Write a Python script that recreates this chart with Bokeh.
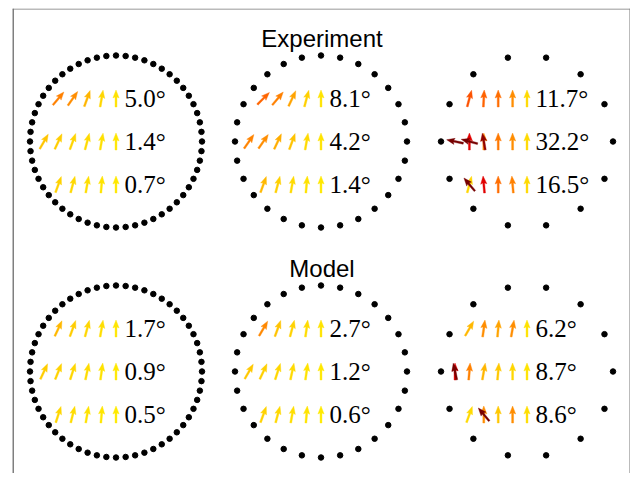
import numpy as np
from bokeh.plotting import figure
from bokeh.models import ColumnDataSource, Range1d, Span
from bokeh.core.properties import value
from bokeh.transform import linear_cmap
from bokeh.embed import file_html
from bokeh.resources import INLINE

# ---------------- data ----------------
row_titles = ["Experiment", "Model"]
ring_counts = [56, 28, 14]          # dots on each boundary ring (columns)

exp_labels = [["5.0°", "1.4°", "0.7°"],
              ["8.1°", "4.2°", "1.4°"],
              ["11.7°", "32.2°", "16.5°"]]
model_labels = [["1.7°", "0.9°", "0.5°"],
                ["2.7°", "1.2°", "0.6°"],
                ["6.2°", "8.7°", "8.6°"]]

# arrow direction (deg, clockwise from up) and tilt (colour value),
# listed for k = 0 (arrow at the centre) then leftwards; three rows per panel
exp_c1_dir = [[0, 10, 20, 35, 40], [0, 10, 15, 20, 25, 30], [0, 5, 10, 15, 20]]
exp_c1_tilt = [[6, 12, 25, 40, 45], [4, 7, 10, 13, 16, 19], [3, 5, 8, 11, 14]]
exp_c2_dir = [[0, 15, 25, 40, 45], [0, 10, 20, 25, 35, 35], [0, 5, 10, 15, 20]]
exp_c2_tilt = [[5, 15, 32, 45, 52], [5, 10, 20, 28, 40, 44], [3, 6, 10, 15, 24]]
exp_c3_dir = [[0, 0, 0, 3, 15], [0, 0, 0, 0, 0], [0, -5, 0, -5, 15]]
exp_c3_tilt = [[10, 40, 50, 53, 56], [10, 40, 47, 42, 66], [10, 45, 50, 66, 12]]
# extra overlapping arrows: (row, k, direction, tilt)
exp_c3_extra = [(1, 3, -10, 82), (1, 4, -75, 88), (1, 5, -78, 88), (2, 4, -40, 88)]

model_c1_dir = [[0, 10, 15, 20, 25], [0, 8, 12, 18, 22, 25], [0, 5, 10, 14, 18]]
model_c1_tilt = [[4, 8, 12, 16, 24], [3, 6, 9, 12, 14, 16], [2, 4, 6, 9, 12]]
model_c2_dir = [[0, 8, 15, 20, 30], [0, 8, 12, 18, 25, 30], [0, 5, 10, 15, 20]]
model_c2_tilt = [[5, 9, 14, 20, 42], [3, 6, 10, 12, 15, 18], [2, 5, 8, 11, 14]]
model_c3_dir = [[0, 10, 5, 8, 30], [0, 0, 5, 10, 5, 0], [0, 0, 0, 0, 20]]
model_c3_tilt = [[6, 40, 32, 40, 24], [5, 12, 18, 25, 45, 66], [8, 40, 18, 40, 10]]
model_c3_extra = [(1, 5, -12, 88), (2, 3, -40, 88)]

panel_dirs = [[exp_c1_dir, exp_c2_dir, exp_c3_dir], [model_c1_dir, model_c2_dir, model_c3_dir]]
panel_tilts = [[exp_c1_tilt, exp_c2_tilt, exp_c3_tilt], [model_c1_tilt, model_c2_tilt, model_c3_tilt]]
panel_extra = [[[], [], exp_c3_extra], [[], [], model_c3_extra]]
panel_labels = [exp_labels, model_labels]

# ---------------- layout (pixels) ----------------
FW, FH = 618, 465
col_cx = [103.5, 308.5, 514.5]
row_cy = [FH - 133, FH - 363]
ring_r = 86
row_off = [43, 0, -43]
step = 14.4

anchors_t = [0, 15, 30, 45, 55, 65, 78, 90]
anchors_c = ["#FFEE00", "#FFD000", "#FFA800", "#FF8000", "#FF5A00", "#E60000", "#A00000", "#6E0000"]
rgb = np.array([[int(c[i:i + 2], 16) for i in (1, 3, 5)] for c in anchors_c], float)
tt = np.arange(91)
palette = ["#%02x%02x%02x" % tuple(int(round(np.interp(t, anchors_t, rgb[:, j]))) for j in range(3)) for t in tt]

p = figure(width=FW + 12, height=FH + 8, output_backend="svg", toolbar_location=None,
           x_range=Range1d(0, FW), y_range=Range1d(0, FH),
           x_axis_location=None, y_axis_location=None,
           min_border_left=12, min_border_right=0, min_border_top=8, min_border_bottom=0)
p.grid.visible = False
p.outline_line_color = None
p.background_fill_color = "white"
p.border_fill_color = "white"

p.add_layout(Span(location=0.5, dimension="height", line_color="black", line_width=1))
p.add_layout(Span(location=FW - 0.5, dimension="height", line_color="#777777", line_width=1))
p.add_layout(Span(location=FH - 0.5, dimension="width", line_color="#777777", line_width=1))


def arrow_poly(xc, yc, ang, L=17.0, w=1.9, hw=6.2, hl=8.0, hal=7.0):
    a = np.radians(ang)
    ux, uy = np.sin(a), np.cos(a)
    vx, vy = uy, -ux
    pts = [(-L / 2, -w / 2), (L / 2 - hal, -w / 2), (L / 2 - hl, -hw / 2), (L / 2, 0),
           (L / 2 - hl, hw / 2), (L / 2 - hal, w / 2), (-L / 2, w / 2)]
    return [xc + s * ux + t * vx for s, t in pts], [yc + s * uy + t * vy for s, t in pts]


dot_x, dot_y = [], []
ax_xs, ax_ys, ax_t = [], [], []
ex_xs, ex_ys, ex_t = [], [], []
lab_x, lab_y, lab_txt = [], [], []

for pr in range(2):
    cy = row_cy[pr]
    for pc in range(3):
        cx = col_cx[pc]
        n = ring_counts[pc]
        th = 2 * np.pi * np.arange(n) / n
        dot_x.extend(cx + ring_r * np.cos(th))
        dot_y.extend(cy + ring_r * np.sin(th))
        for r in range(3):
            yy = cy + row_off[r]
            for k, (d, t) in enumerate(zip(panel_dirs[pr][pc][r], panel_tilts[pr][pc][r])):
                xs, ys = arrow_poly(cx - k * step, yy, d)
                ax_xs.append(xs); ax_ys.append(ys); ax_t.append(t)
            lab_x.append(cx + 8.5); lab_y.append(yy); lab_txt.append(panel_labels[pr][pc][r])
        for (r, k, d, t) in panel_extra[pr][pc]:
            xs, ys = arrow_poly(cx - k * step, cy + row_off[r], d)
            ex_xs.append(xs); ex_ys.append(ys); ex_t.append(t)

p.scatter(dot_x, dot_y, size=5.5, color="black")

cmap = linear_cmap("tilt", palette, 0, 90)
src = ColumnDataSource(dict(xs=ax_xs, ys=ax_ys, tilt=ax_t))
p.patches("xs", "ys", source=src, fill_color=cmap, line_color=cmap, line_width=0.4)
src2 = ColumnDataSource(dict(xs=ex_xs, ys=ex_ys, tilt=ex_t))
p.patches("xs", "ys", source=src2, fill_color=cmap, line_color=cmap, line_width=0.4)

p.text(lab_x, lab_y, text=lab_txt, text_font=value("Liberation Serif"), text_font_size="25px",
       text_color="black", text_align="left", text_baseline="alphabetic")

p.text([col_cx[1] + 1] * 2, [row_cy[0] + 103, row_cy[1] + 103], text=row_titles,
       text_font=value("Liberation Sans"), text_font_size="24px", text_color="black",
       text_align="center", text_baseline="alphabetic")

open("out.html", "w").write(file_html(p, INLINE))
